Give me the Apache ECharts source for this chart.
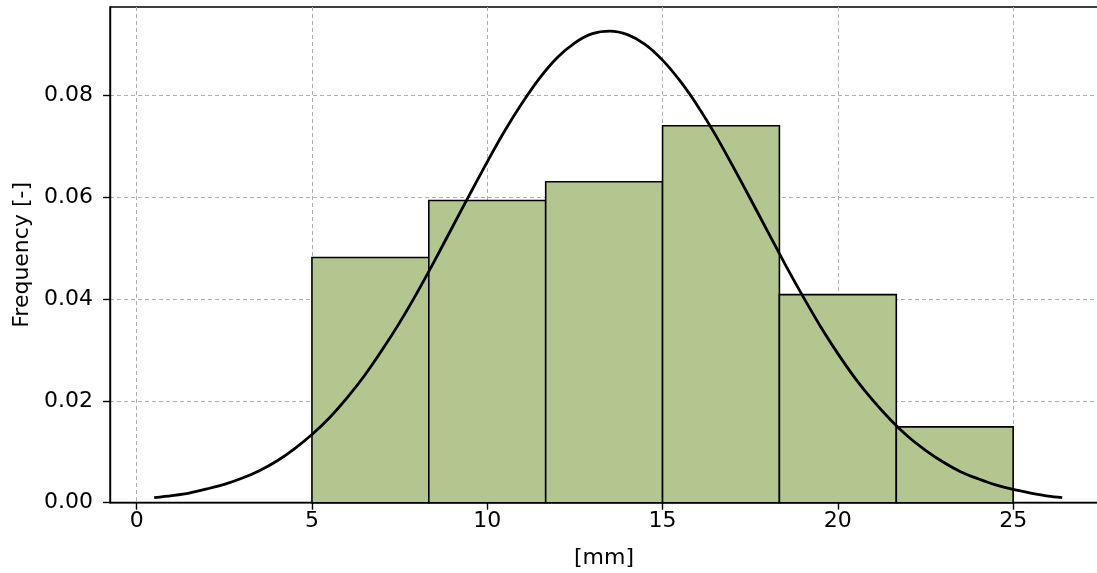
<!DOCTYPE html>
<html>
<head>
<meta charset="utf-8">
<script src="https://cdn.jsdelivr.net/npm/echarts@6/dist/echarts.min.js"></script>
<style>
html,body{margin:0;padding:0;background:#fff;}
#chart{width:1097px;height:573px;}
</style>
</head>
<body>
<div id="chart"></div>
<script>
// Histogram bins (edges in mm) and bar heights (frequency)
const binEdges = [5, 8.333, 11.667, 15, 18.333, 21.667, 25];
const binHeights = [0.0482, 0.0594, 0.0631, 0.0741, 0.0409, 0.0149];

// Fitted curve points
const curveX = [0.5, 1, 1.5, 2, 2.5, 3, 3.5, 4, 4.5, 5, 5.5, 6, 6.5, 7, 7.5, 8, 8.5, 9, 9.5, 10,
  10.5, 11, 11.5, 12, 12.5, 13, 13.5, 14, 14.5, 15, 15.5, 16, 16.5, 17, 17.5, 18, 18.5, 19, 19.5, 20,
  20.5, 21, 21.5, 22, 22.5, 23, 23.5, 24, 24.5, 25, 25.5, 26, 26.4];
const curveY = [0.0010, 0.0014, 0.0019, 0.0027, 0.0036, 0.0048, 0.0063, 0.0082, 0.0106, 0.0134,
  0.0167, 0.0206, 0.0250, 0.0300, 0.0354, 0.0413, 0.0476, 0.0541, 0.0606, 0.0670,
  0.0731, 0.0786, 0.0835, 0.0875, 0.0904, 0.0922, 0.0927, 0.0920, 0.0901, 0.0870,
  0.0829, 0.0780, 0.0724, 0.0662, 0.0598, 0.0533, 0.0468, 0.0406, 0.0347, 0.0293,
  0.0244, 0.0201, 0.0163, 0.0130, 0.0103, 0.0080, 0.0061, 0.0047, 0.0035, 0.0026,
  0.0019, 0.0013, 0.0010];

// Tick labels
const xTicks = [0, 5, 10, 15, 20, 25];
const yTicks = [0, 0.02, 0.04, 0.06, 0.08];

const barData = binHeights.map((h, i) => [binEdges[i], binEdges[i + 1], h]);
const lineData = curveX.map((x, i) => [x, curveY[i]]);

const FONT = 'DejaVu Sans';
const chart = echarts.init(document.getElementById('chart'), null, {renderer: 'canvas'});
chart.setOption({
  animation: false,
  backgroundColor: '#ffffff',
  grid: {
    left: 110, top: 7, width: 988, bottom: 70.3,
    outerBoundsMode: 'none', containLabel: false,
    show: true, borderColor: '#000', borderWidth: 1.4, backgroundColor: 'transparent'
  },
  xAxis: {
    type: 'value',
    min: -0.76, max: 27.42,
    name: '[mm]', nameLocation: 'middle', nameGap: 45,
    nameTextStyle: {fontFamily: FONT, fontSize: 22, color: '#000'},
    axisLine: {show: true, onZero: false, lineStyle: {color: '#000', width: 1.4}},
    axisTick: {show: true, customValues: xTicks, length: 7, lineStyle: {color: '#000', width: 1.4}},
    axisLabel: {customValues: xTicks, fontFamily: FONT, fontSize: 22, color: '#000', margin: 8},
    splitLine: {show: true, lineStyle: {color: '#b0b0b0', type: [4, 3], width: 1}}
  },
  yAxis: {
    type: 'value',
    min: 0, max: 0.09744,
    name: 'Frequency [-]', nameLocation: 'middle', nameGap: 77,
    nameTextStyle: {fontFamily: FONT, fontSize: 22, color: '#000'},
    axisLine: {show: true, onZero: false, lineStyle: {color: '#000', width: 1.4}},
    axisTick: {show: true, customValues: yTicks, length: 7, lineStyle: {color: '#000', width: 1.4}},
    axisLabel: {customValues: yTicks, fontFamily: FONT, fontSize: 22, color: '#000', margin: 17,
      formatter: v => v.toFixed(2)},
    splitLine: {show: true, lineStyle: {color: '#b0b0b0', type: [4, 3], width: 1}}
  },
  series: [
    {
      type: 'custom',
      data: barData,
      z: 2,
      renderItem: function (params, api) {
        const p0 = api.coord([api.value(0), api.value(2)]);
        const p1 = api.coord([api.value(1), 0]);
        return {
          type: 'rect',
          shape: {x: p0[0], y: p0[1], width: p1[0] - p0[0], height: p1[1] - p0[1]},
          style: {fill: '#b3c68f', stroke: '#000', lineWidth: 1.6}
        };
      }
    },
    {
      type: 'line',
      data: lineData,
      z: 3,
      smooth: 0.3,
      showSymbol: false,
      symbol: 'none',
      lineStyle: {color: '#000', width: 2.8, join: 'round'}
    }
  ]
});
</script>
</body>
</html>
